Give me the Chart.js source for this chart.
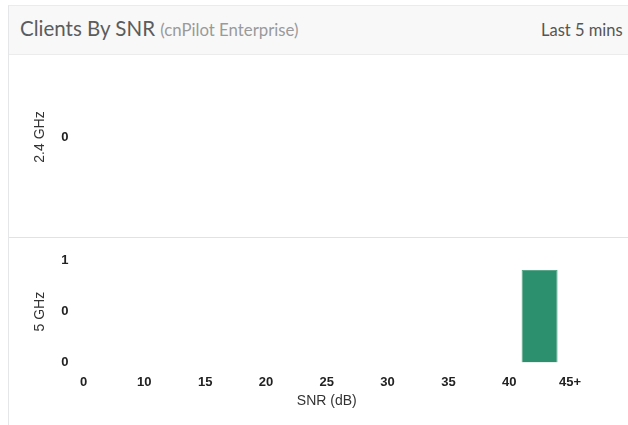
<!DOCTYPE html>
<html>
<head>
<meta charset="utf-8">
<title>Clients By SNR</title>
<script src="https://cdn.jsdelivr.net/npm/chart.js@4/dist/chart.umd.min.js"></script>
<style>
    body {
        margin: 0;
        width: 628px;
        height: 425px;
        background: #fff;
        overflow: hidden;
        position: relative;
    }
    .card {
        position: absolute;
        left: 8px;
        top: 5px;
        width: 640px;
        height: 440px;
        border-left: 1px solid #e4e6e8;
        border-top: 1px solid #ebebeb;
    }
    .card__header {
        height: 48px;
        background: #f8f8f8;
        border-bottom: 1px solid #ececec;
        font-family: Lato, "Open Sans", sans-serif;
        position: relative;
    }
    .card__title {
        position: absolute;
        left: 11px;
        top: 10px;
        font-size: 20.5px;
        color: #5c5c5c;
        white-space: nowrap;
    }
    .card__title small {
        font-size: 16.8px;
        color: #9a9a9a;
    }
    .card__range {
        position: absolute;
        left: 532px;
        top: 14px;
        font-size: 16.5px;
        color: #555;
        white-space: nowrap;
    }
    .divider {
        position: absolute;
        left: 9px;
        top: 237px;
        width: 620px;
        height: 1px;
        background: #dde3e7;
    }
    .panel {
        position: absolute;
        left: 0;
        width: 628px;
    }
</style>
</head>
<body>
<div class="card">
    <div class="card__header">
        <span class="card__title">Clients By SNR <small>(cnPilot Enterprise)</small></span>
        <span class="card__range">Last 5 mins</span>
    </div>
</div>
<div class="panel" style="top:55px;height:182px"><canvas id="chart_24ghz"></canvas></div>
<div class="divider"></div>
<div class="panel" style="top:238px;height:187px"><canvas id="chart_5ghz"></canvas></div>

<script>
//! Data
const snr_labels = ['0', '10', '15', '20', '25', '30', '35', '40', '45+'];
const snr_bins = ['0-10', '10-15', '15-20', '20-25', '25-30', '30-35', '35-40', '40-45'];
const clients_24ghz = [0, 0, 0, 0, 0, 0, 0, 0];
const clients_5ghz = [0, 0, 0, 0, 0, 0, 0, 1];
const ticks_24ghz = [0];
const ticks_5ghz = [0, 0.55, 1.1];

const bar_color = '#2c8f6e';
const tick_font = { family: '"Liberation Sans", Arial, sans-serif', size: 13, weight: 'bold' };
const title_font = { family: '"Liberation Sans", Arial, sans-serif', size: 14 };

//! Build one band chart
function bandChart(canvas_id, band, values, y_ticks, show_x, padding) {
    let y_min = y_ticks[0];
    let y_max = y_ticks[y_ticks.length - 1];
    if (y_min === y_max) {
        y_min -= 1;
        y_max += 1;
    }
    return new Chart(document.getElementById(canvas_id), {
        type: 'bar',
        data: {
            datasets: [{
                label: band,
                data: values,
                xAxisID: 'bins',
                backgroundColor: bar_color,
                borderColor: '#5aa88b',
                borderWidth: 1,
                barPercentage: 0.592,
                categoryPercentage: 1
            }]
        },
        options: {
            responsive: true,
            maintainAspectRatio: false,
            animation: false,
            layout: { padding: padding },
            plugins: { legend: { display: false }, tooltip: { enabled: false } },
            scales: {
                // SNR edges, labels sit on bin boundaries
                x: {
                    type: 'category',
                    labels: snr_labels,
                    offset: false,
                    display: show_x,
                    grid: { display: false, drawTicks: false },
                    border: { display: false },
                    ticks: { color: '#222', font: tick_font, padding: 12, maxRotation: 0, autoSkip: false },
                    title: { display: true, text: 'SNR (dB)', color: '#333', font: title_font, padding: { top: -9, bottom: 4 } }
                },
                // bins that the bars are drawn on
                bins: {
                    type: 'category',
                    labels: snr_bins,
                    offset: true,
                    display: false
                },
                y: {
                    min: y_min,
                    max: y_max,
                    grid: { display: false, drawTicks: false },
                    border: { display: false },
                    afterBuildTicks: scale => {
                        scale.ticks = y_ticks.map(v => ({ value: v }));
                    },
                    afterFit: scale => {
                        scale.width = 83.5;
                    },
                    ticks: {
                        color: '#222',
                        font: tick_font,
                        padding: 15,
                        callback: v => Math.floor(v)
                    },
                    title: { display: true, text: band, color: '#333', font: title_font, padding: { top: 32, bottom: 0 } }
                }
            }
        }
    });
}

bandChart('chart_24ghz', '2.4 GHz', clients_24ghz, ticks_24ghz, false, { top: 31, bottom: 49, left: 0, right: 58 });
bandChart('chart_5ghz', '5 GHz', clients_5ghz, ticks_5ghz, true, { top: 22, bottom: 11, left: 0, right: 58 });
</script>
</body>
</html>
